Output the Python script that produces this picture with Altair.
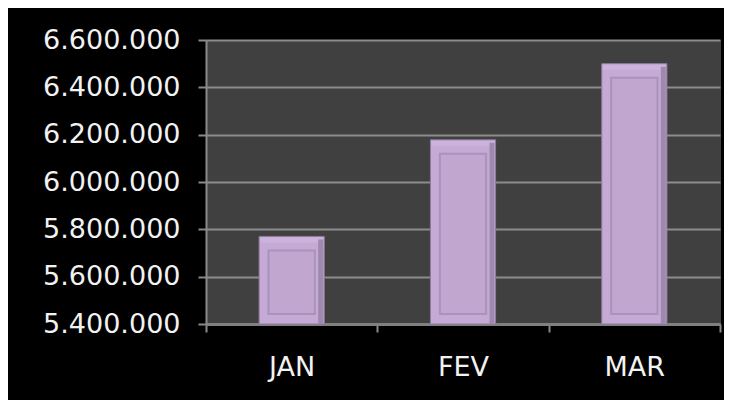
import altair as alt
import pandas as pd

months = ["JAN", "FEV", "MAR"]
values = [5770000, 6178000, 6500000]
y_ticks = [5400000, 5600000, 5800000, 6000000, 6200000, 6400000, 6600000]

df = pd.DataFrame({"month": months, "value": values})

x_enc = alt.X(
    "month:N",
    sort=months,
    title=None,
    scale=alt.Scale(paddingInner=0, paddingOuter=0),
    axis=alt.Axis(
        labelAngle=0,
        labelColor="#f2f2f2",
        labelFont="DejaVu Sans",
        labelFontSize=27,
        labelPadding=22,
        tickBand="extent",
        tickColor="#8a8a8a",
        tickSize=8,
        tickWidth=2,
        domainColor="#808080",
        domainWidth=3,
        grid=False,
    ),
)

y_enc = alt.Y(
    "value:Q",
    title=None,
    scale=alt.Scale(domain=[5400000, 6600000], zero=False, nice=False),
    axis=alt.Axis(
        values=y_ticks,
        format=",d",
        labelColor="#f2f2f2",
        labelFont="DejaVu Sans",
        labelFontSize=27,
        labelPadding=18,
        tickColor="#8a8a8a",
        tickSize=8,
        tickWidth=2,
        domainColor="#8a8a8a",
        domainWidth=2,
        gridColor="#8c8c8c",
        gridWidth=2,
    ),
)

base = alt.Chart(df)
x_plain = alt.X("month:N", sort=months)

outer = base.mark_bar(
    width=alt.RelativeBandSize(0.38),
    color="#c4aad4",
    stroke="#8f7c9e",
    strokeWidth=1,
).encode(x=x_enc, y=y_enc, y2=alt.datum(5400000))

top_edge = base.mark_bar(
    width=alt.RelativeBandSize(0.37),
    color="#cbb3db",
    yOffset=1,
    y2Offset=6,
).encode(x=x_plain, y="value:Q", y2="value:Q")

right_edge = base.mark_bar(
    width=5,
    color="#9f8aaf",
    xOffset=29,
    yOffset=3,
).encode(x=x_plain, y="value:Q", y2=alt.datum(5400000))

inner = base.mark_bar(
    width=alt.RelativeBandSize(0.27),
    fill="#c1a7d0",
    stroke="#a993b9",
    strokeWidth=2,
    yOffset=14,
    y2Offset=-10,
).encode(x=x_plain, y="value:Q", y2=alt.datum(5400000))

chart = (
    alt.layer(outer, top_edge, right_edge, inner)
    .properties(
        width=514,
        height=284,
        background="#000000",
        padding={"left": 198, "top": 32, "right": 4, "bottom": 76},
        autosize=alt.AutoSizeParams(type="none"),
        view=alt.ViewBackground(fill="#404040", stroke="#404040"),
    )
    .configure(
        locale=alt.Locale(
            number=alt.NumberLocale(
                decimal=",", thousands=".", grouping=[3], currency=["R$", ""]
            )
        )
    )
)

chart.save("out.html", embed_options={"renderer": "svg", "actions": False})
